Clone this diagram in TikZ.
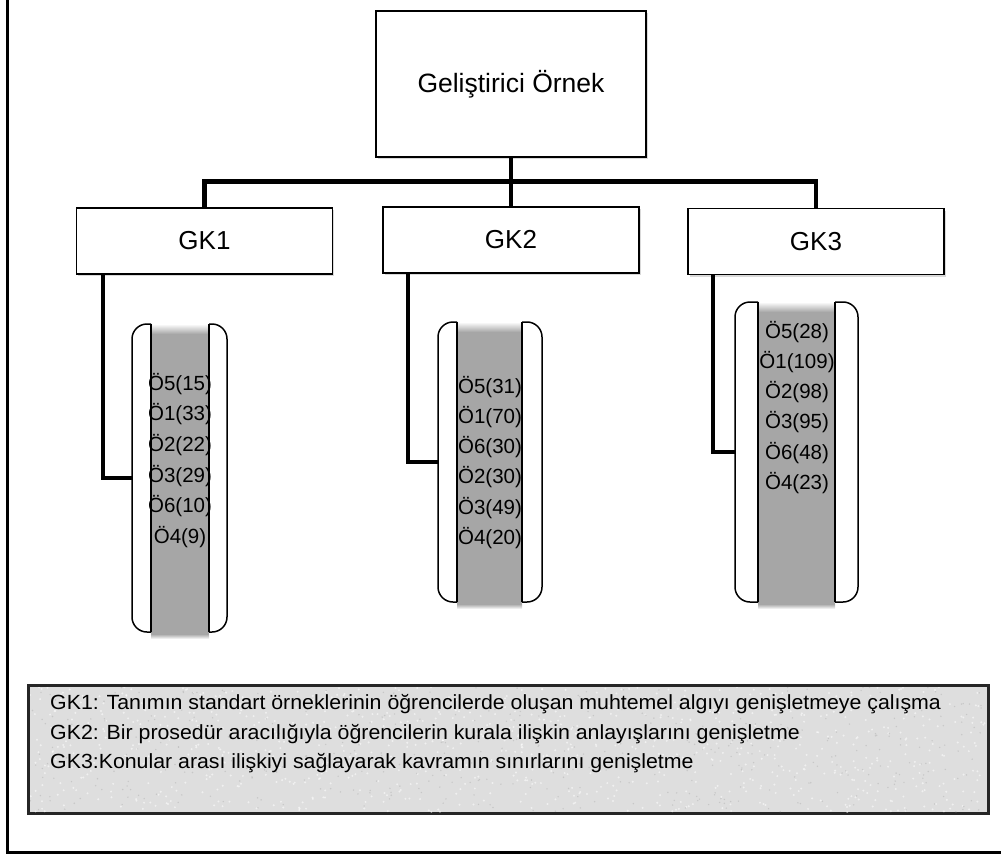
\documentclass[tikz,border=0pt]{standalone}
\usepackage{fontspec}
\setmainfont{Liberation Sans}
\newfontfamily\legendfont[FakeStretch=1.04]{Liberation Sans}
\usetikzlibrary{shadows,fit}

\definecolor{bandgray}{RGB}{166,166,166}
\definecolor{legendgray}{RGB}{222,222,222}

\tikzset{
  box/.style={draw=black, line width=1.6pt, fill=white, inner sep=0pt,
    drop shadow={shadow xshift=1.5pt, shadow yshift=-2pt, opacity=0.3}},
  gkbox/.style={box, minimum width=256pt, minimum height=66pt,
    font=\fontsize{26}{30}\selectfont},
  link/.style={line width=4.8pt},
  sublink/.style={line width=4.2pt},
  stripline/.style={line width=1.5pt},
  rolltext/.style={font=\fontsize{20.5}{24}\selectfont, text height=14.7pt,
    text depth=0pt, inner sep=0pt},
  legtext/.style={font=\legendfont\fontsize{20.5}{24}\selectfont,
    anchor=base west, inner sep=0pt},
}

% a paper roll: grey band between two white side strips with rounded outer corners
% #1 outer left, #2 inner left, #3 inner right, #4 outer right, #5 top, #6 bottom, #7 name
\newcommand\paperroll[7]{%
  \fill[bandgray] (#2,#5+8) rectangle (#3,#6+3);
  \shade[top color=white, bottom color=bandgray] (#2,#5) rectangle (#3,#5+10);
  \shade[top color=bandgray, bottom color=white] (#2,#6+2) rectangle (#3,#6+7);
  \begin{scope}
    \clip (#1-4,#5-4) rectangle (#2,#6+4);
    \draw[stripline, fill=white, rounded corners=15pt] (#1,#5) rectangle (#2+30,#6);
  \end{scope}
  \draw[stripline] (#2,#5) -- (#2,#6);
  \begin{scope}
    \clip (#3,#5-4) rectangle (#4+4,#6+4);
    \draw[stripline, fill=white, rounded corners=15pt] (#3-30,#5) rectangle (#4,#6);
  \end{scope}
  \draw[stripline] (#3,#5) -- (#3,#6);
  \node[fit={(#1,#5) (#4,#6)}, inner sep=0pt] (#7) {};
}

\begin{document}
\begin{tikzpicture}[x=1pt,y=-1pt]
\clip (0,0) rectangle (1001,856);
\path[use as bounding box] (0,0) rectangle (1001,856);

% outer frame (left and bottom sides)
\draw[line width=3pt] (7,-10) -- (7,852) -- (1020,852);

% hierarchy boxes
\node[box, minimum width=270pt, minimum height=146pt,
  font=\fontsize{26.5}{30}\selectfont] (top) at (511,84) {Geliştirici Örnek};
\node[gkbox] (g1) at (204.5,241) {GK1};
\node[gkbox] (g2) at (511,240) {GK2};
\node[gkbox] (g3) at (816,241.5) {GK3};

\draw[link] (top.south) -- (g2.north);
\draw[link] (g1.north) -- ++(0,-26) -| (g3.north);

% paper rolls
\paperroll{132}{151}{209}{227}{324}{632}{s1}
\paperroll{438}{457}{522}{542}{322}{602}{s2}
\paperroll{735}{758}{835}{858}{302}{602}{s3}

\foreach \t [count=\k] in {Ö5(15),Ö1(33),Ö2(22),Ö3(29),Ö6(10),Ö4(9)}
  \node[rolltext] (ra\k) at (180,{383+30.6*(\k-1)}) {\t};
\foreach \t [count=\k] in {Ö5(31),Ö1(70),Ö6(30),Ö2(30),Ö3(49),Ö4(20)}
  \node[rolltext] (rb\k) at (490,{386+30.2*(\k-1)}) {\t};
\foreach \t [count=\k] in {Ö5(28),Ö1(109),Ö2(98),Ö3(95),Ö6(48),Ö4(23)}
  \node[rolltext] (rc\k) at (797,{331+30.2*(\k-1)}) {\t};

\draw[sublink] ([xshift=27pt]g1.south west) |- (s1.west);
\draw[sublink] ([xshift=26pt]g2.south west) |- (s2.west);
\draw[sublink] ([xshift=26pt]g3.south west) |- (s3.west);

% legend
\node[draw=black!85, line width=2pt, fill=legendgray, minimum width=959pt,
  minimum height=127pt, inner sep=0pt] (legend) at (508.5,749.5) {};
\begin{scope}
  \clip (30,687) rectangle (987,812);
  \pgfmathsetseed{11}
  \foreach \k in {1,...,900} {
    \pgfmathsetmacro\px{30+957*rnd}
    \pgfmathsetmacro\py{687+125*rnd}
    \fill[white, opacity=0.55] (\px,\py) circle[radius=1.1pt];
  }
  \foreach \k in {1,...,500} {
    \pgfmathsetmacro\px{30+957*rnd}
    \pgfmathsetmacro\py{687+125*rnd}
    \fill[black!30, opacity=0.5] (\px,\py) circle[radius=0.8pt];
  }
\end{scope}
\draw[draw=black!85, line width=2pt] (legend.north west) rectangle (legend.south east);

\node[legtext] (l1) at (50,709) {GK1: Tanımın standart örneklerinin öğrencilerde oluşan muhtemel algıyı genişletmeye çalışma};
\node[legtext] (l2) at (50,739) {GK2: Bir prosedür aracılığıyla öğrencilerin kurala ilişkin anlayışlarını genişletme};
\node[legtext] (l3) at (50,768) {GK3:Konular arası ilişkiyi sağlayarak kavramın sınırlarını genişletme};
\end{tikzpicture}
\end{document}
